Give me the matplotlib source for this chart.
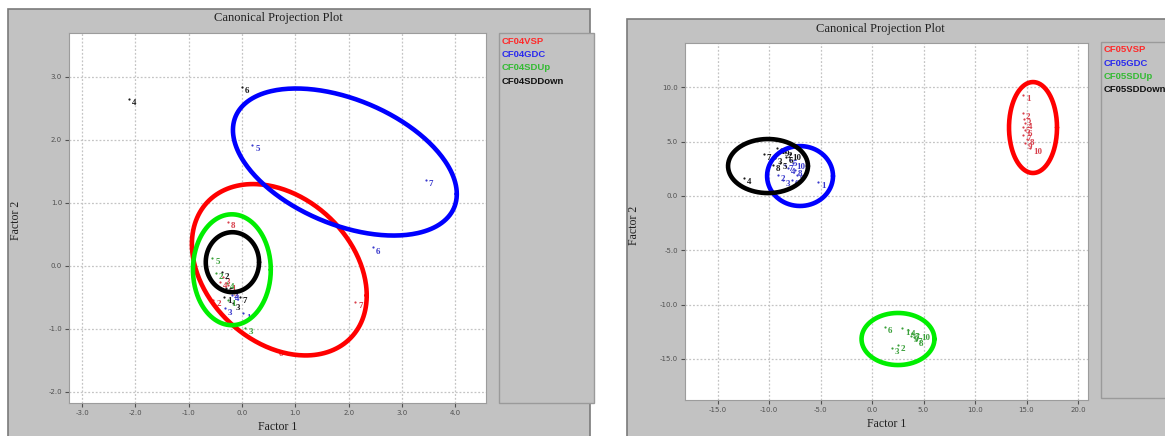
import numpy as np
import matplotlib
matplotlib.use("Agg")
import matplotlib.pyplot as plt
from matplotlib.patches import Rectangle

# ---------------- data ----------------
panel_titles = ["Canonical Projection Plot", "Canonical Projection Plot"]
x_label = "Factor 1"
y_label = "Factor 2"

left_series = ["CF04VSP", "CF04GDC", "CF04SDUp", "CF04SDDown"]
right_series = ["CF05VSP", "CF05GDC", "CF05SDUp", "CF05SDDown"]

# left panel points (labels are 1..n in order)
l_red_x = [-0.26, -0.54, -0.36, -0.41, -0.22, 0.64, 2.12, -0.26]
l_red_y = [-0.30, -0.54, -0.18, -0.25, -0.38, -1.33, -0.57, 0.70]
l_blue_x = [0.02, -0.22, -0.32, -0.19, 0.19, 2.46, 3.45]
l_blue_y = [-0.75, -0.40, -0.67, -0.46, 1.92, 0.30, 1.37]
l_green_x = [-0.26, -0.49, 0.06, -0.28, -0.56]
l_green_y = [-0.54, -0.11, -0.98, -0.27, 0.13]
l_black_x = [-0.34, -0.38, -0.17, -2.12, -0.30, 0.00, -0.04]
l_black_y = [-0.49, -0.10, -0.59, 2.65, -0.35, 2.84, -0.49]

# right panel points
r_red_x = [14.66, 14.66, 14.76, 14.85, 14.66, 14.85, 14.66, 15.05, 14.85, 15.34]
r_red_y = [9.31, 7.65, 7.10, 6.73, 6.36, 6.08, 5.62, 5.25, 4.88, 4.42]
r_blue_x = [-5.24, -9.13, -8.64, -8.16, -7.96, -7.77, -8.45, -7.48, -7.28, -7.67]
r_blue_y = [1.29, 1.94, 1.47, 2.58, 3.32, 1.47, 2.86, 2.40, 1.94, 3.04]
r_green_x = [2.91, 2.52, 1.94, 3.50, 3.88, 1.26, 4.08, 4.27, 3.79, 4.47]
r_green_y = [-12.17, -13.73, -14.01, -12.35, -12.63, -12.07, -13.00, -13.27, -12.90, -12.72]
r_black_x = [-9.22, -8.45, -9.42, -12.40, -8.93, -8.35, -10.50, -9.60, -8.80, -8.00]
r_black_y = [4.42, 4.06, 3.50, 1.66, 3.04, 3.59, 3.87, 2.90, 4.30, 3.90]

# ellipses: centre x, centre y, half-extent x, half-extent y, correlation
l_ell_red = (0.70, -0.06, 1.64, 1.36, -0.30)
l_ell_blue = (1.93, 1.65, 2.10, 1.167, -0.435)
l_ell_green = (-0.19, -0.06, 0.73, 0.88, 0.0)
l_ell_black = (-0.18, 0.06, 0.50, 0.476, 0.0)
r_ell_red = (15.63, 6.31, 2.33, 4.19, 0.0)
r_ell_blue = (-6.99, 1.84, 3.20, 2.76, 0.0)
r_ell_green = (2.52, -13.18, 3.54, 2.40, 0.0)
r_ell_black = (-10.10, 2.76, 3.88, 2.49, 0.0)

l_xticks = [-3, -2, -1, 0, 1, 2, 3, 4]
l_yticks = [-2, -1, 0, 1, 2, 3]
r_xticks = [-15, -10, -5, 0, 5, 10, 15, 20]
r_yticks = [-15, -10, -5, 0, 5, 10]
l_xlim, l_ylim = (-3.246, 4.578), (-2.175, 3.698)
r_xlim, r_ylim = (-18.16, 20.97), (-18.80, 14.10)

# ---------------- style ----------------
W, H = 1165, 436
GRAY = "#c2c2c2"
ell_colors = ["#ff0000", "#0000ff", "#00ee00", "#000000"]
lab_colors = ["#d8404c", "#3a3acc", "#3aa03a", "#1a1a1a"]
leg_colors = ["#ff2a2a", "#2a2aee", "#33bb33", "#111111"]

fig = plt.figure(figsize=(W / 100, H / 100), dpi=100)
fig.patch.set_facecolor("white")


def fx(x):
    return x / W


def fy(y):
    return 1 - y / H


def box(x0, y0, x1, y1, fc, ec, lw=1.0, z=-5):
    fig.patches.append(Rectangle((fx(x0), fy(y1)), fx(x1) - fx(x0), fy(y0) - fy(y1),
                                 transform=fig.transFigure, facecolor=fc,
                                 edgecolor=ec, linewidth=lw, zorder=z))


def ellipse(ax, params, color):
    cx, cy, sx, sy, rho = params
    cov = np.array([[sx * sx, rho * sx * sy], [rho * sx * sy, sy * sy]])
    L = np.linalg.cholesky(cov)
    t = np.linspace(0, 2 * np.pi, 300)
    pts = L @ np.vstack([np.cos(t), np.sin(t)])
    ax.plot(cx + pts[0], cy + pts[1], color=color, lw=3.3, zorder=5,
            solid_capstyle="round")


def points(ax, xs, ys, color):
    ax.scatter(xs, ys, s=2.5, color=color, zorder=3, linewidths=0)
    for i, (x, y) in enumerate(zip(xs, ys)):
        ax.annotate(str(i + 1), (x, y), xytext=(2.2, -3.2), textcoords="offset points",
                    ha="left", va="center", fontsize=6.5, color=color,
                    family="Liberation Serif", fontweight="bold", zorder=4)


def panel(frame, plot_rect, legend_rect, title_xy, xl_xy, yl_xy, leg_xy, leg_dy,
          xlim, ylim, xticks, yticks, series, pts, ells, title):
    fx0, fy0, fx1, fy1 = frame
    box(fx0, fy0, fx1, fy1, GRAY, "#7a7a7a", 1.2, z=-5)
    lx0, ly0, lx1, ly1 = legend_rect
    box(lx0, ly0, lx1, ly1, GRAY, "#9a9a9a", 1.0, z=-4)
    px0, py0, px1, py1 = plot_rect
    ax = fig.add_axes([fx(px0), fy(py1), fx(px1) - fx(px0), fy(py0) - fy(py1)])
    ax.set_zorder(1)
    ax.set_facecolor("white")
    ax.set_xlim(*xlim)
    ax.set_ylim(*ylim)
    ax.set_xticks(xticks)
    ax.set_yticks(yticks)
    ax.set_xticklabels([f"{v:.1f}" for v in xticks])
    ax.set_yticklabels([f"{v:.1f}" for v in yticks])
    ax.tick_params(labelsize=5, colors="#505050", length=3, width=0.8, pad=2)
    ax.grid(True, color="#c4c4c4", linestyle=(0, (1.5, 1.5)), linewidth=0.9)
    for s in ax.spines.values():
        s.set_color("#9c9c9c")
        s.set_linewidth(0.8)
    for (xs, ys), c in zip(pts, lab_colors):
        points(ax, xs, ys, c)
    for e, c in zip(ells, ell_colors):
        ellipse(ax, e, c)
    fig.text(fx(title_xy[0]), fy(title_xy[1]), title, ha="center", va="center",
             fontsize=9, family="Liberation Serif", color="#202020")
    fig.text(fx(xl_xy[0]), fy(xl_xy[1]), x_label, ha="center", va="center",
             fontsize=8.5, family="Liberation Serif", color="#202020")
    fig.text(fx(yl_xy[0]), fy(yl_xy[1]), y_label, ha="center", va="center",
             rotation=90, fontsize=8.5, family="Liberation Serif", color="#202020")
    for i, (name, c) in enumerate(zip(series, leg_colors)):
        fig.text(fx(leg_xy[0]), fy(leg_xy[1] + i * leg_dy), name, ha="left",
                 va="center", fontsize=6.8, family="Liberation Sans",
                 fontweight="bold", color=c)
    return ax


panel((8, 9, 590, 440), (69, 33, 486, 403), (499, 33, 594, 403),
      (278, 18), (278, 427), (16, 220), (502, 41), 13.5,
      l_xlim, l_ylim, l_xticks, l_yticks, left_series,
      [(l_red_x, l_red_y), (l_blue_x, l_blue_y), (l_green_x, l_green_y), (l_black_x, l_black_y)],
      [l_ell_red, l_ell_blue, l_ell_green, l_ell_black], panel_titles[0])

panel((627, 19, 1170, 440), (685, 43, 1088, 400), (1101, 42, 1170, 398),
      (880, 29), (887, 424), (634, 225), (1104, 50), 13,
      r_xlim, r_ylim, r_xticks, r_yticks, right_series,
      [(r_red_x, r_red_y), (r_blue_x, r_blue_y), (r_green_x, r_green_y), (r_black_x, r_black_y)],
      [r_ell_red, r_ell_blue, r_ell_green, r_ell_black], panel_titles[1])

fig.savefig("out.png", dpi=100, facecolor="white")
